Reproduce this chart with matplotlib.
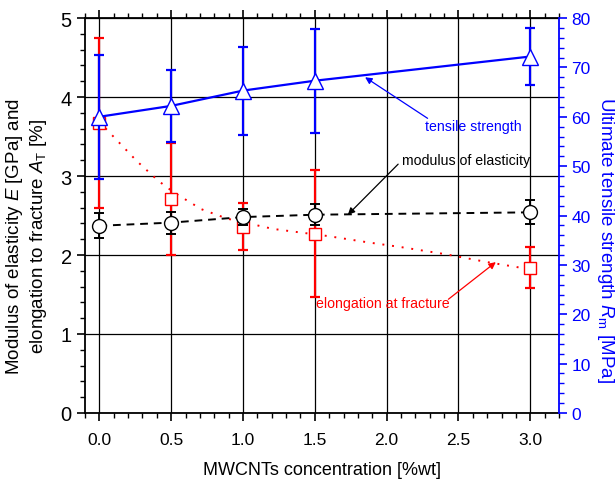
import matplotlib
matplotlib.use("Agg")
import matplotlib.pyplot as plt
from matplotlib.ticker import MultipleLocator

plt.rcParams['font.family'] = ['Liberation Sans', 'DejaVu Sans']
plt.rcParams['mathtext.fontset'] = 'custom'
plt.rcParams['mathtext.rm'] = 'Liberation Sans'
plt.rcParams['mathtext.it'] = 'Liberation Sans:italic'

# ---- data ----
conc = [0.0, 0.5, 1.0, 1.5, 3.0]
modulus = [2.37, 2.41, 2.48, 2.51, 2.54]
modulus_err = [0.16, 0.14, 0.10, 0.13, 0.15]
elong = [3.67, 2.71, 2.36, 2.27, 1.84]
elong_err = [1.08, 0.71, 0.30, 0.80, 0.26]
tensile = [60.0, 62.2, 65.3, 67.3, 72.2]
tensile_err = [12.6, 7.3, 8.9, 10.5, 5.8]
# fitted trend curve for elongation
fit_x = [0.0, 0.05, 0.26, 0.41, 0.52, 0.71, 0.89, 1.21, 1.59, 1.87, 2.10, 2.41, 2.70, 2.93, 3.0]
fit_y = [3.70, 3.59, 3.19, 2.94, 2.79, 2.58, 2.46, 2.33, 2.24, 2.16, 2.10, 2.01, 1.91, 1.84, 1.83]
xticks = [0.0, 0.5, 1.0, 1.5, 2.0, 2.5, 3.0]

fig = plt.figure(figsize=(6.16, 4.85), dpi=100)
ax = fig.add_axes([0.138, 0.1464, 0.7695, 0.8144])
ax2 = ax.twinx()

ax.set_xlim(-0.1, 3.2)
ax.set_ylim(0, 5)
ax2.set_ylim(0, 80)

# grid
ax.set_xticks(xticks)
ax.set_xticklabels([f"{v:.1f}" for v in xticks])
ax.xaxis.set_minor_locator(MultipleLocator(0.1))
ax.yaxis.set_major_locator(MultipleLocator(1))
ax.yaxis.set_minor_locator(MultipleLocator(0.2))
ax.grid(True, which='major', color='black', lw=0.9)
ax.set_axisbelow(True)

# elongation
ax.plot(fit_x, fit_y, color='red', ls=(0, (1, 4)), lw=1.4, zorder=3)
ax.errorbar(conc, elong, yerr=elong_err, fmt='s', color='red', mfc='white', mec='red',
            ms=8, capsize=3.5, elinewidth=1.6, capthick=1.6, zorder=4)
# modulus
ax.plot(conc, modulus, color='black', ls=(0, (4, 3)), lw=1.4, zorder=5)
ax.errorbar(conc, modulus, yerr=modulus_err, fmt='o', color='black', mfc='white', mec='black',
            ms=10, capsize=3.5, elinewidth=1.4, capthick=1.4, zorder=6)
# tensile
ax2.errorbar(conc, tensile, yerr=tensile_err, fmt='^', ls='-', lw=1.6, color='blue',
             mfc='white', mec='blue', ms=11, capsize=3.5, elinewidth=1.6, capthick=1.6, zorder=7)

# ticks & spines
ax.tick_params(axis='both', which='both', direction='out', top=True, right=False, color='black')
ax.tick_params(axis='both', which='major', length=6, width=1.2)
ax.tick_params(axis='both', which='minor', length=3.5, width=1.0)
ax.tick_params(axis='y', labelsize=14.5)
ax.tick_params(axis='x', labelsize=12.5, pad=8)
for s in ['left', 'top', 'bottom']:
    ax.spines[s].set_linewidth(1.3)
ax.spines['right'].set_visible(False)
ax2.spines['right'].set_color('blue')
ax2.spines['right'].set_linewidth(1.3)
for s in ['left', 'top', 'bottom']:
    ax2.spines[s].set_visible(False)
ax2.yaxis.set_major_locator(MultipleLocator(10))
ax2.yaxis.set_minor_locator(MultipleLocator(2))
ax2.tick_params(axis='y', which='both', direction='out', colors='blue', labelsize=12.5, pad=3)
ax2.tick_params(axis='y', which='major', length=6, width=1.2)
ax2.tick_params(axis='y', which='minor', length=3.5, width=1.0)

ax.set_xlabel("MWCNTs concentration [%wt]", fontsize=13, labelpad=10)
ax.set_ylabel("Modulus of elasticity $\\mathit{E}$ [GPa] and\nelongation to fracture $\\mathit{A}_{\\mathrm{T}}$ [%]",
              fontsize=13.5, labelpad=8)
ax.yaxis.label.set_y(0.45)
ax2.set_ylabel("Ultimate tensile strength $\\mathit{R}_{\\mathrm{m}}$ [MPa]", color='blue',
               fontsize=13.5, rotation=-90, labelpad=18)
ax2.yaxis.label.set_y(0.44)

# annotations
ax.annotate('', xy=(1.85, 4.25), xytext=(2.285, 3.73),
            arrowprops=dict(arrowstyle='-|>', color='blue', lw=0.9, mutation_scale=10,
                            shrinkA=0, shrinkB=0), zorder=8)
ax.text(2.27, 3.63, "tensile strength", color='blue', fontsize=10.2, va='center', ha='left', zorder=8)
ax.annotate('', xy=(1.73, 2.51), xytext=(2.08, 3.15),
            arrowprops=dict(arrowstyle='-|>', color='black', lw=0.9, mutation_scale=10,
                            shrinkA=0, shrinkB=0), zorder=8)
ax.text(2.11, 3.20, "modulus of elasticity", color='black', fontsize=10.2, va='center', ha='left', zorder=8)
ax.annotate('', xy=(2.76, 1.91), xytext=(2.43, 1.44),
            arrowprops=dict(arrowstyle='-|>', color='red', lw=0.9, mutation_scale=10,
                            shrinkA=0, shrinkB=0), zorder=8)
ax.text(1.51, 1.39, "elongation at fracture", color='red', fontsize=10.2, va='center', ha='left', zorder=8)

fig.savefig("out.png", dpi=100)
